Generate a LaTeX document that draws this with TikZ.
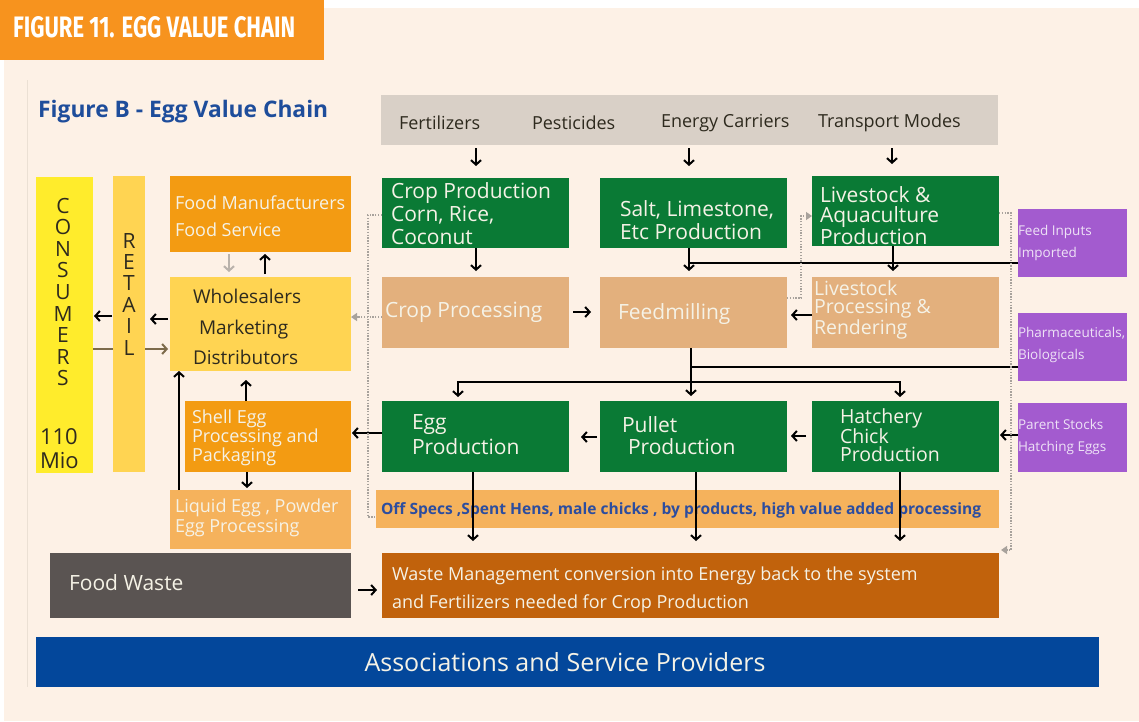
\documentclass[tikz,border=0pt]{standalone}
\usepackage{fontspec}
\setmainfont{Open Sans}
\newfontfamily\titlefont{Fira Sans}
\usetikzlibrary{arrows.meta}
\definecolor{cream}{HTML}{FDF1E6}
\definecolor{titleor}{HTML}{F7931E}
\definecolor{figblue}{HTML}{1E4D9B}
\definecolor{barg}{HTML}{D9D0C7}
\definecolor{grn}{HTML}{0A7A35}
\definecolor{tanc}{HTML}{E3B07D}
\definecolor{lor}{HTML}{F5B25C}
\definecolor{org}{HTML}{F39B12}
\definecolor{yel}{HTML}{FFEC2C}
\definecolor{ylo}{HTML}{FFD452}
\definecolor{purp}{HTML}{A35BCF}
\definecolor{wst}{HTML}{C1620C}
\definecolor{fwg}{HTML}{5A5452}
\definecolor{assb}{HTML}{03479B}
\definecolor{offb}{HTML}{2C4D9F}
\definecolor{wtxt}{HTML}{F5F2E6}
\definecolor{ptxt}{HTML}{EEE2F6}
\definecolor{dtxt}{HTML}{2E2A1E}
\definecolor{dotc}{HTML}{A8A29C}
\definecolor{brn}{HTML}{7D6B4B}
\definecolor{lgr}{HTML}{B9B2AB}
\definecolor{edgec}{HTML}{EBE0D4}
\tikzset{
  bx/.style={rectangle, inner sep=0pt, outer sep=0pt, anchor=north west},
  tx/.style={inner sep=0pt, outer sep=0pt, anchor=west, align=left},
  arr/.style={line width=2pt, -{Straight Barb[length=4.5pt,width=10pt]}},
  ln/.style={line width=2pt},
  dots/.style={dotc, line width=1.3pt, dash pattern=on 1.3pt off 1.5pt},
  darr/.style={dots, -{Triangle[length=6pt,width=8pt]}},
}
\newcommand\mkbox[6]{\node[bx, fill=#2, minimum width=#5pt, minimum height=#6pt] (#1) at (#3,#4) {};}
\newcommand\fs[2]{\fontsize{#1}{#2}\selectfont}
\begin{document}
\begin{tikzpicture}[x=1pt,y=-1pt]
\useasboundingbox (0,0) rectangle (1139,721);
\fill[white] (0,0) rectangle (1139,721);
\fill[cream] (4,8) rectangle (1139,721);
\draw[edgec, line width=1pt] (27,80) -- (27,687);
% title
\mkbox{title}{titleor}{0}{0}{324}{60}
\node[inner sep=0pt, anchor=base west, text=white] (titletext) at (13,37) {\resizebox{282pt}{21pt}{\titlefont\bfseries FIGURE 11. EGG VALUE CHAIN}};
\node[inner sep=0pt, anchor=base west, text=figblue] (figb) at (38,117) {\resizebox{290pt}{!}{\bfseries Figure B - Egg Value Chain}};
% boxes
\mkbox{inputs}{barg}{381}{95}{617}{50}
\mkbox{cropprod}{grn}{382}{178}{187}{70}
\mkbox{salt}{grn}{600}{178}{187}{70}
\mkbox{live}{grn}{812}{176}{187}{70}
\mkbox{cropproc}{tanc}{382}{277}{187}{71}
\mkbox{feed}{tanc}{600}{277}{187}{71}
\mkbox{lproc}{tanc}{812}{277}{187}{71}
\mkbox{eggp}{grn}{382}{401}{187}{71}
\mkbox{pullet}{grn}{600}{401}{187}{71}
\mkbox{hatch}{grn}{812}{401}{187}{71}
\mkbox{offspec}{lor}{376}{490}{623}{38}
\mkbox{waste}{wst}{382}{553}{617}{65}
\mkbox{fwaste}{fwg}{50}{553}{301}{65}
\mkbox{assoc}{assb}{36}{637}{1063}{50}
\mkbox{cons}{yel}{36}{177}{57}{296}
\mkbox{retail}{ylo}{113}{176}{32}{296}
\mkbox{fman}{org}{170}{176}{181}{76}
\mkbox{whole}{ylo}{170}{277}{181}{94}
\mkbox{shell}{org}{185}{401}{166}{71}
\mkbox{liquid}{lor}{170}{490}{181}{59}
\mkbox{feedin}{purp}{1018}{209}{109}{68}
\mkbox{pharma}{purp}{1018}{313}{109}{68}
\mkbox{parent}{purp}{1018}{403}{109}{69}
% texts
\begin{scope}[every node/.style={tx, text=dtxt, font=\fs{18}{18}}]
\node (fert) at (399,123) {Fertilizers};
\node (pest) at (532,123) {Pesticides};
\node (energy) at (661,123) {Energy Carriers};
\node (transp) at (818,123) {Transport Modes};
\end{scope}
\begin{scope}[every node/.style={tx, text=wtxt}]
\node[font=\fs{21}{23}] (t-cropprod) at (391,214) {Crop Production\\Corn, Rice,\\Coconut};
\node[font=\fs{21}{23}] (t-salt) at (620,220) {Salt, Limestone,\\Etc Production};
\node[font=\fs{21}{20}] (t-live) at (820,216) {Livestock \&\\Aquaculture\\Production};
\node[font=\fs{21}{21}] (t-cropproc) at (385,312) {Crop Processing};
\node[font=\fs{21}{21}] (t-feed) at (618,314) {Feedmilling};
\node[font=\fs{19.5}{18}] (t-lproc) at (814,310) {Livestock\\Processing \&\\Rendering};
\node[font=\fs{21}{25}] (t-eggp) at (412,435) {Egg\\Production};
\node[font=\fs{21}{22}] (t-pullet) at (622,436) {Pullet\\\hspace*{6pt}Production};
\node[font=\fs{19.5}{18}] (t-hatch) at (840,435) {Hatchery\\Chick\\Production};
\node[font=\fs{18}{28}] (t-waste) at (392,590) {Waste Management conversion into Energy back to the system\\and Fertilizers needed for Crop Production};
\node[font=\fs{21}{21}] (t-fwaste) at (69,583) {Food Waste};
\node[font=\fs{25}{25}, anchor=center] (t-assoc) at (565,662) {Associations and Service Providers};
\node[font=\fs{18}{27.5}] (t-fman) at (175,216) {Food Manufacturers\\Food Service};
\node[font=\fs{18}{19}] (t-shell) at (192,438) {Shell Egg\\Processing and\\Packaging};
\node[font=\fs{18}{20}] (t-liquid) at (175,518) {Liquid Egg , Powder\\Egg Processing};
\end{scope}
\begin{scope}[every node/.style={tx, text=ptxt, font=\fs{13.5}{21.5}}]
\node (t-feedin) at (1018,243) {Feed Inputs\\Imported};
\node (t-pharma) at (1018,345) {Pharmaceuticals,\\Biologicals};
\node (t-parent) at (1018,437) {Parent Stocks\\Hatching Eggs};
\end{scope}
\node[tx, text=dtxt, font=\fs{19}{30.5}] (t-whole) at (193,327) {Wholesalers\\\hspace*{6pt}Marketing\\Distributors};
\node[tx, anchor=center, align=center, text=dtxt, font=\fs{21}{21.6}] (t-cons) at (63,292) {C\\O\\N\\S\\U\\M\\E\\R\\S};
\node[tx, text=dtxt, font=\fs{22}{24}] (t-mio) at (40,449) {110\\Mio};
\node[tx, anchor=center, align=center, text=dtxt, font=\fs{21}{21.4}] (t-retail) at (129,294) {R\\E\\T\\A\\I\\L};
\node[tx, text=offb, font=\bfseries] (t-offspec) at (381,510) {\resizebox{600pt}{!}{Off Specs ,Spent Hens, male chicks , by products, high value added processing}};
% arrows from inputs
\foreach \x/\n in {476/cropprod, 689/salt, 892/live}
  \draw[arr, shorten <=3pt, shorten >=12pt] (\x,0 |- inputs.south) -- (\x,0 |- \n.north);
\draw[arr, shorten >=6pt] (476,0 |- cropprod.south) -- (476,0 |- cropproc.north);
\draw[arr, shorten >=6pt] (689,0 |- salt.south) -- (689,0 |- feed.north);
\draw[arr, shorten >=6pt] (893,0 |- live.south) -- (893,0 |- lproc.north);
\draw[ln] (feedin.west |- 0,263) -- (689,263);
\draw[arr, shorten <=4pt, shorten >=9pt] (cropproc.east |- 0,312) -- (feed.west |- 0,312);
\draw[arr, shorten >=4pt] (lproc.west |- 0,315) -- (feed.east |- 0,315);
\draw[arr, shorten >=5pt] (691,0 |- feed.south) -- (691,0 |- pullet.north);
\draw[ln] (pharma.west |- 0,367) -- (691,367);
\coordinate (fj) at (691,382);
\draw[arr, shorten >=4pt] (fj) -| (458,0 |- eggp.north);
\draw[arr, shorten >=4pt] (fj) -| (900,0 |- hatch.north);
\draw[arr, shorten <=6pt, shorten >=4pt] (hatch.west |- 0,436) -- (pullet.east |- 0,436);
\draw[arr, shorten <=3pt, shorten >=12pt] (pullet.west |- 0,437) -- (eggp.east |- 0,437);
\draw[arr, shorten >=1pt] (eggp.west |- 0,433) -- (shell.east |- 0,433);
\draw[arr, shorten >=1pt] (parent.west |- 0,435) -- (hatch.east |- 0,435);
% left side
\draw[arr, shorten >=9pt] (246,0 |- shell.north) -- (246,0 |- whole.south);
\draw[arr, shorten >=2pt] (247,0 |- shell.south) -- (247,0 |- liquid.north);
\draw[arr] (179,0 |- liquid.north) -- (179,0 |- whole.south);
\draw[arr, shorten <=3pt, shorten >=2pt] (265,0 |- whole.north) -- (265,0 |- fman.south);
\draw[arr, lgr, shorten <=2pt, shorten >=5pt] (229,0 |- fman.south) -- (229,0 |- whole.north);
\draw[arr, shorten <=2pt, shorten >=5pt] (whole.west |- 0,319) -- (retail.east |- 0,319);
\draw[arr, shorten <=1pt, shorten >=1pt] (retail.west |- 0,316) -- (cons.east |- 0,316);
\draw[ln, brn] (cons.east |- 0,349) -- (retail.west |- 0,349);
\draw[arr, brn, shorten >=2pt] (retail.east |- 0,349) -- (whole.west |- 0,349);
% bottom
\foreach \x/\n in {473/eggp, 696/pullet, 900/hatch}
  \draw[arr, shorten >=12pt] (\x,0 |- \n.south) -- (\x,0 |- waste.north);
\draw[arr, shorten <=7pt, shorten >=5pt] (fwaste.east |- 0,590) -- (waste.west |- 0,590);
% dotted
\draw[dots] (cropprod.west |- 0,215) -- (368,215) -- (368,517) -- (offspec.west |- 0,517);
\draw[darr] (cropproc.west |- 0,317) -- (whole.east |- 0,317);
\draw[darr] (feed.east |- 0,298) -- (801,298) -- (801,216) -- (live.west |- 0,216);
\coordinate (dend) at (1001,550);
\draw[darr] (live.east |- 0,213) -- (1011,213) -- (1011,550) -- (dend);
\end{tikzpicture}
\end{document}
